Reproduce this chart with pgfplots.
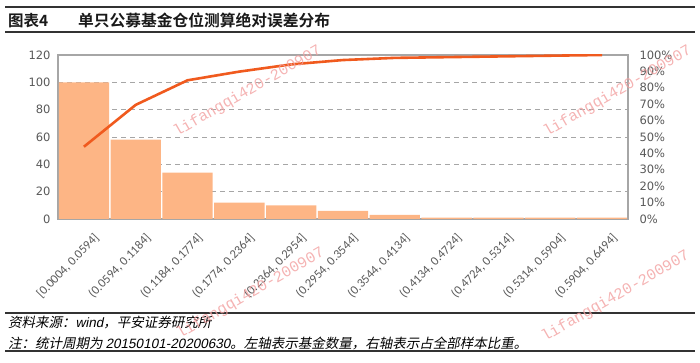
\documentclass[border=0pt]{standalone}
\usepackage{pgfplots}
\pgfplotsset{compat=1.18}
\usepackage{fontspec}
\setmainfont{DejaVu Sans}
\newfontfamily\cjk{Noto Sans CJK SC}[BoldFont={Noto Sans CJK SC Bold}]
\newfontfamily\cjkit{Noto Sans CJK SC}[FakeSlant=0.2]
\newfontfamily\latit{Liberation Sans}[FakeSlant=0.2]
\newfontfamily\wmfont{Liberation Mono}
\newfontfamily\xtfont{Carlito}
\definecolor{barc}{HTML}{FDB585}
\definecolor{linec}{HTML}{F05A1E}
\definecolor{tickc}{HTML}{595959}
\definecolor{framec}{HTML}{A6A6A6}
\definecolor{rulec}{HTML}{333333}
\definecolor{wmc}{HTML}{F2A0A0}
\begin{document}
\begin{tikzpicture}[x=1pt,y=1pt]
\useasboundingbox (0,0) rectangle (700,363);
% title
\draw[rulec, line width=1.5pt] (5,356) -- (695,356);
\draw[rulec, line width=1.8pt] (5,331) -- (695,331);
\node[anchor=west, inner sep=0pt, text=black!90] at (8,342.5) {\fontsize{15.5}{16}\selectfont\cjk\bfseries 图表4};
\node[anchor=west, inner sep=0pt, text=black!90] at (78,342.5) {\fontsize{15.75}{16}\selectfont\cjk\bfseries 单只公募基金仓位测算绝对误差分布};
\begin{axis}[
  at={(58pt,144pt)}, anchor=south west,
  width=570pt, height=164pt, scale only axis,
  xmin=-0.5, xmax=10.5, ymin=0, ymax=120,
  axis line style={framec, line width=1.2pt},
  ytick={0,20,40,60,80,100,120},
  ymajorgrids, grid style={framec, dash pattern=on 5pt off 4pt, line width=0.9pt},
  major tick length=0pt,
  xtick={0,1,2,3,4,5,6,7,8,9,10},
  xticklabels={{[0.0004, 0.0594]},{(0.0594, 0.1184]},{(0.1184, 0.1774]},{(0.1774, 0.2364]},{(0.2364, 0.2954]},{(0.2954, 0.3544]},{(0.3544, 0.4134]},{(0.4134, 0.4724]},{(0.4724, 0.5314]},{(0.5314, 0.5904]},{(0.5904, 0.6494]}},
  x tick label style={xshift=9pt, yshift=-13pt, rotate=46, anchor=north east, inner sep=0pt, font=\fontsize{12.5}{13}\selectfont\xtfont, text=tickc},
  y tick label style={font=\fontsize{11.5}{12}\selectfont, text=tickc, xshift=-4pt},
  ybar, bar width=50.3pt,
  /pgf/number format/assume math mode=true,
]
\addplot[fill=barc, draw=none] coordinates {
(0,100) (1,58) (2,34) (3,12) (4,10) (5,6) (6,3) (7,1) (8,1) (9,1) (10,1)};
\end{axis}
\begin{axis}[
  at={(58pt,144pt)}, anchor=south west,
  width=570pt, height=164pt, scale only axis,
  xmin=-0.5, xmax=10.5, ymin=0, ymax=1,
  axis x line=none, axis y line*=right,
  axis line style={framec, line width=1.2pt},
  major tick length=0pt,
  ytick={0,0.1,0.2,0.3,0.4,0.5,0.6,0.7,0.8,0.9,1},
  yticklabels={0\%,10\%,20\%,30\%,40\%,50\%,60\%,70\%,80\%,90\%,100\%},
  y tick label style={font=\fontsize{11.5}{12}\selectfont, text=tickc, xshift=8pt},
]
\addplot[linec, line width=2.6pt, mark=none] coordinates {
(0,0.4405) (1,0.6960) (2,0.8458) (3,0.8987) (4,0.9427) (5,0.9692) (6,0.9824) (7,0.9868) (8,0.9912) (9,0.9956) (10,1.0)};
\end{axis}
% footer
\draw[rulec, line width=1.2pt] (5,50) -- (695,50);
\node[anchor=west, inner sep=0pt] at (8,40) {\fontsize{13.5}{14}\selectfont\cjkit 资料来源：{\latit wind}，平安证券研究所};
\node[anchor=west, inner sep=0pt] at (8,20) {\fontsize{13.5}{14}\selectfont\cjkit 注：统计周期为 {\latit 20150101-20200630}。左轴表示基金数量，右轴表示占全部样本比重。};
\draw[rulec, line width=1.5pt] (5,12) -- (695,12);
% watermark
\foreach \wx/\wy in {177/226, 547/226, 180/24, 545/21}{
  \node[anchor=base west, rotate=30, inner sep=0pt, text=wmc, opacity=0.8] at (\wx,\wy) {\fontsize{15.5}{16}\selectfont\wmfont lifangqi420-200907};
}
\end{tikzpicture}
\end{document}
